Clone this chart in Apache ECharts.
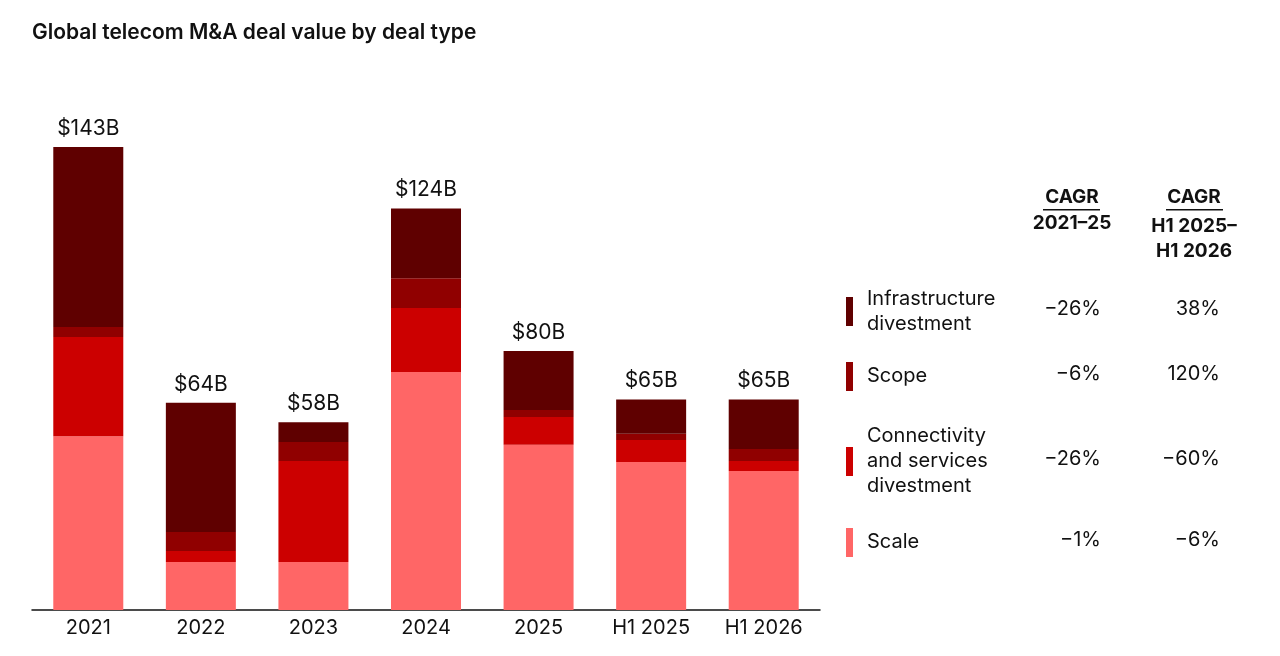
<!DOCTYPE html>
<html><head><meta charset="utf-8">
<script src="https://cdn.jsdelivr.net/npm/echarts@6/dist/echarts.min.js"></script>
<style>html,body{margin:0;background:#fff}#c{width:1280px;height:656px}</style>
</head><body><div id="c"></div>
<script>
const categories = ['2021','2022','2023','2024','2025','H1 2025','H1 2026'];
const scale = [53.7,14.8,14.8,73.5,51,45.7,42.9];
const connectivity = [30.6,3.4,31.2,19.8,8.6,6.8,3.1];
const scope = [3.1,5.9,5.9,9.2,2.2,1.9,3.7];
const infrastructure = [55.6,39.9,6.1,21.5,18.2,10.6,15.3];
const totalLabels = ['$143B','$64B','$58B','$124B','$80B','$65B','$65B'];
const legendNames = ['Infrastructure\ndivestment','Scope','Connectivity\nand services\ndivestment','Scale'];
const cagr2125 = ['\u221226%','\u22126%','\u221226%','\u22121%'];
const cagrH1 = ['38%','120%','\u221260%','\u22126%'];
const colors = ['#5f0000','#900000','#cc0000','#ff6666'];
const font = 'Inter, "Noto Sans", sans-serif';

const chart = echarts.init(document.getElementById('c'));
const mk = (name,data,color,last)=>({name,type:'bar',stack:'t',data,barWidth:70,
  itemStyle:{color,borderColor:'#fff',borderWidth:0},
  label: last?{show:true,position:'top',distance:8,fontSize:21,color:'#111',fontFamily:font,
    formatter:p=>totalLabels[p.dataIndex]}:{show:false}});
const g = [];
g.push({type:'text',left:32,top:22,style:{text:'Global telecom M&A deal value by deal type',font:'600 21px '+font,fill:'#111'}});
g.push({type:'text',x:1072,y:188,style:{text:'CAGR',font:'bold 19px '+font,fill:'#111',textAlign:'center'}});
g.push({type:'rect',shape:{x:1043,y:209,width:57,height:1.5},style:{fill:'#111'}});
g.push({type:'text',x:1072,y:214,style:{text:'2021\u201325',font:'bold 19px '+font,fill:'#111',textAlign:'center'}});
g.push({type:'text',x:1194,y:188,style:{text:'CAGR',font:'bold 19px '+font,fill:'#111',textAlign:'center'}});
g.push({type:'rect',shape:{x:1166,y:209,width:57,height:1.5},style:{fill:'#111'}});
g.push({type:'text',x:1194,y:214,style:{text:'H1 2025\u2013\nH1 2026',font:'bold 19px '+font,fill:'#111',textAlign:'center',lineHeight:25}});
const rowY=[311,376,461,542];
const rowN=[2,1,3,1];
for(let i=0;i<4;i++){
  const h=rowN[i]*25;
  g.push({type:'rect',shape:{x:846,y:rowY[i]-14,width:7,height:29},style:{fill:colors[i]}});
  g.push({type:'text',x:867,y:rowY[i]-h/2,style:{text:legendNames[i],font:'20px '+font,fill:'#111',lineHeight:25}});
  g.push({type:'text',x:1101,y:rowY[i]-12,style:{text:cagr2125[i],font:'20px '+font,fill:'#111',textAlign:'right'}});
  g.push({type:'text',x:1220,y:rowY[i]-12,style:{text:cagrH1[i],font:'20px '+font,fill:'#111',textAlign:'right'}});
}
chart.setOption({
  animation:false,
  grid:{left:32,right:460,top:147,bottom:46},
  xAxis:{type:'category',data:categories,axisTick:{show:false},
    axisLine:{lineStyle:{color:'#111',width:1.5}},
    axisLabel:{fontSize:20,color:'#111',fontFamily:font,margin:8}},
  yAxis:{type:'value',min:0,max:143,show:false,splitLine:{show:false}},
  series:[mk('Scale',scale,colors[3]),mk('Connectivity',connectivity,colors[2]),
    mk('Scope',scope,colors[1]),mk('Infrastructure',infrastructure,colors[0],true)],
  graphic:g
});
</script></body></html>
